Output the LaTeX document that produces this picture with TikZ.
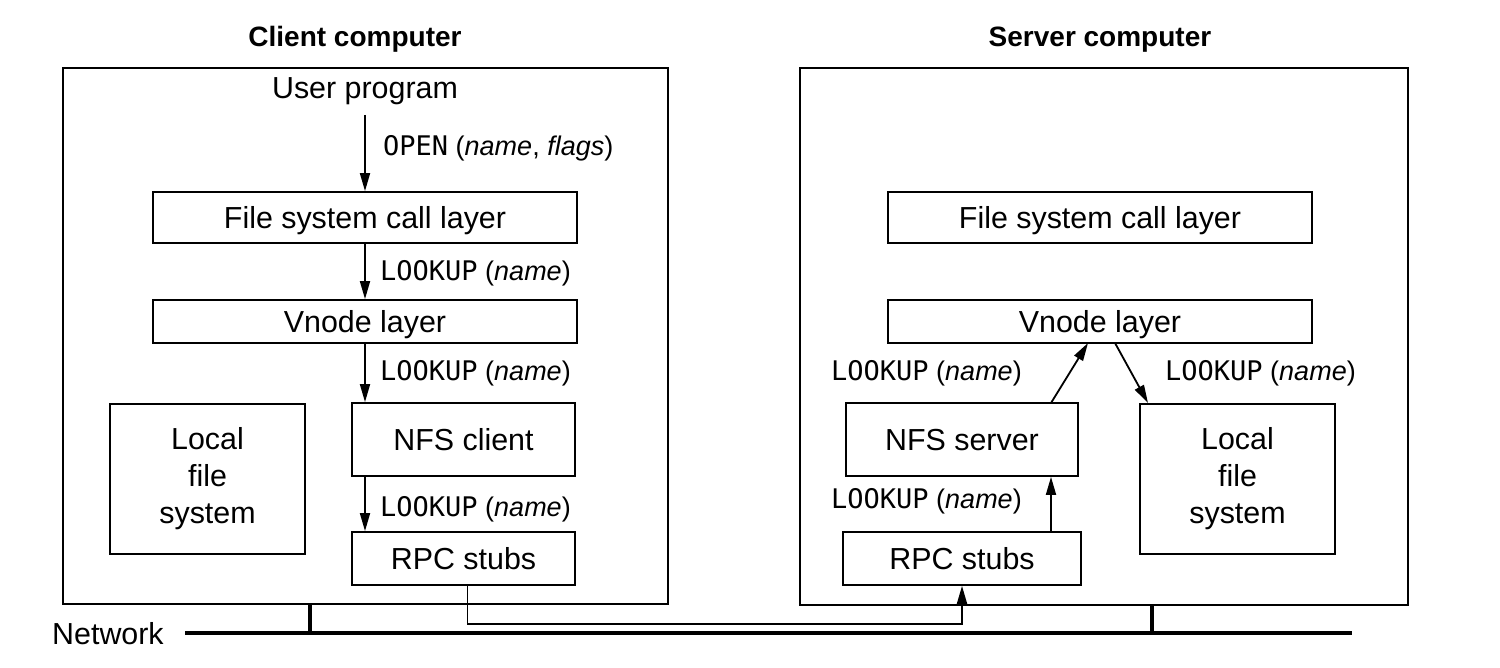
\documentclass[tikz,border=0pt]{standalone}
\usepackage{fontspec}
\setmainfont{Liberation Sans}
\newfontfamily\monof{DejaVu Sans Mono}
\usetikzlibrary{arrows.meta,positioning}
\tikzset{
  box/.style={draw, line width=1.8pt, inner sep=0pt, font=\fontsize{30.4}{37}\selectfont, align=center},
  one/.style={text depth=0pt},
  frame/.style={draw, line width=1.8pt},
  lab/.style={anchor=base west, inner sep=0pt, font=\fontsize{27}{30}\selectfont},
  title/.style={anchor=base, inner sep=0pt, font=\fontsize{28}{32}\selectfont\bfseries},
  arr/.style={line width=1.8pt, -{Triangle[length=18pt,width=10pt]}},
  net/.style={line width=4.5pt}
}
\newcommand{\lk}{{\monof LOOKUP} (\textit{name})}
\begin{document}
\begin{tikzpicture}[x=1pt,y=-1pt]
\useasboundingbox (0,0) rectangle (1500,668);
% titles
\node[title] (tc) at (355,47) {Client computer};
\node[title] (ts) at (1100,47) {Server computer};
% frames
\node[frame, minimum width=605pt, minimum height=536pt, inner sep=0pt] (cbox) at (365.5,336) {};
\node[frame, minimum width=608pt, minimum height=537pt, inner sep=0pt] (sbox) at (1104,336.5) {};
% client
\node[anchor=base, inner sep=0pt, font=\fontsize{30.4}{37}\selectfont] (up) at (365,99) {User program};
\node[box, one, minimum width=424pt, minimum height=51pt] (fs1) at (365,217.5) {File system call layer};
\node[box, one, minimum width=424pt, minimum height=43pt] (vn1) at (365,321.5) {Vnode layer};
\node[box, one, minimum width=223pt, minimum height=73pt] (nfsc) at (463.5,439.5) {NFS client};
\node[box, minimum width=195pt, minimum height=150pt] (lfs1) at (207.5,479) {Local\\file\\system};
\node[box, one, minimum width=223pt, minimum height=53pt] (rpc1) at (463.5,558.5) {RPC stubs};
% server
\node[box, one, minimum width=424pt, minimum height=51pt] (fs2) at (1100,217.5) {File system call layer};
\node[box, one, minimum width=424pt, minimum height=43pt] (vn2) at (1100,321.5) {Vnode layer};
\node[box, one, minimum width=232pt, minimum height=73pt] (nfss) at (962,439.5) {NFS server};
\node[box, minimum width=195pt, minimum height=150pt] (lfs2) at (1237.5,479) {Local\\file\\system};
\node[box, one, minimum width=238pt, minimum height=53pt] (rpc2) at (962,558.5) {RPC stubs};
% client arrows
\coordinate (ua) at (365,115);
\draw[arr] (ua) -- (fs1.north);
\draw[arr] (fs1.south) -- (vn1.north);
\draw[arr] (vn1.south) -- (vn1.south |- nfsc.north);
\draw[arr] (vn1.south |- nfsc.south) -- (vn1.south |- rpc1.north);
\node[lab] (l0) at (383,156) {{\monof OPEN} (\textit{name}, \textit{flags})};
\node[lab] (l1) at (380,281) {\lk};
\node[lab] (l2) at (380,381) {\lk};
\node[lab] (l3) at (380,516) {\lk};
% server arrows
\coordinate (a1s) at (1051,403);
\coordinate (a1e) at (1088,343);
\coordinate (a2s) at (1115,343);
\coordinate (a2e) at (1148,403);
\draw[arr] (a1s) -- (a1e);
\draw[arr] (a2s) -- (a2e);
\draw[arr] (rpc2.north -| a1s) -- (nfss.south -| a1s);
\node[lab] (l4) at (831,381) {\lk};
\node[lab] (l5) at (1165,381) {\lk};
\node[lab] (l6) at (831,508) {\lk};
% network
\node[anchor=base west, inner sep=0pt, font=\fontsize{30.4}{37}\selectfont] (nt) at (52,644) {Network};
\coordinate (nl) at (185,633);
\coordinate (nr) at (1352,633);
\draw[net] (nl) -- (nr);
\coordinate (cn) at (310,633);
\coordinate (sn) at (1152,633);
\draw[line width=4pt] (cbox.south -| cn) -- (cn);
\draw[line width=4pt] (sbox.south -| sn) -- (sn);
\coordinate (rs) at ([xshift=4pt]rpc1.south);
\draw[arr] (rs) -- ++(0,38) -| (rpc2.south);
\end{tikzpicture}
\end{document}
